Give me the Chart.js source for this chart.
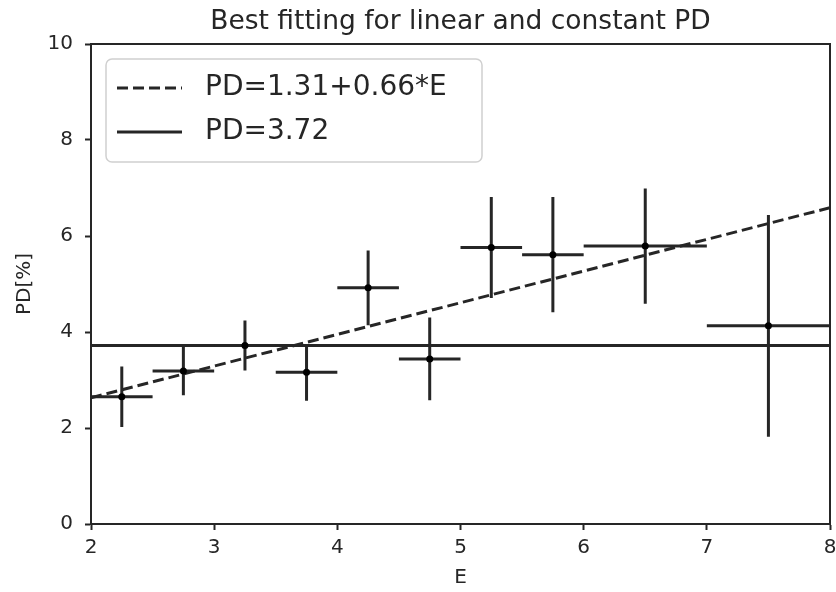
<!DOCTYPE html>
<html>
<head>
<meta charset="utf-8">
<script src="https://cdn.jsdelivr.net/npm/chart.js@4.4.1/dist/chart.umd.min.js"></script>
<style>
  html, body { margin: 0; padding: 0; background: #fff; }
  #wrap { width: 836px; height: 592px; }
</style>
</head>
<body>
<div id="wrap"><canvas id="chart" width="836" height="592"></canvas></div>
<script>
// measured bins (E) and PD[%] with errors
const eVals = [2.25, 2.75, 3.25, 3.75, 4.25, 4.75, 5.25, 5.75, 6.5, 7.5];
const eErr = [0.25, 0.25, 0.25, 0.25, 0.25, 0.25, 0.25, 0.25, 0.5, 0.5];
const pdVals = [2.65, 3.19, 3.72, 3.16, 4.92, 3.44, 5.76, 5.61, 5.79, 4.13];
const pdErr = [0.63, 0.51, 0.52, 0.59, 0.78, 0.86, 1.05, 1.2, 1.2, 2.31];

// fitted lines
const fitX = [2, 8];
const linearY = [2.63, 6.59];
const constY = [3.72, 3.72];
const legendLabels = ['PD=1.31+0.66*E', 'PD=3.72'];
const titleText = 'Best fitting for linear and constant PD';

const xTicks = [2, 3, 4, 5, 6, 7, 8];
const yTicks = [0, 2, 4, 6, 8, 10];

const ink = '#262626';
const font = 'DejaVu Sans';

const errorBars = {
    id: 'errorBars',
    afterDatasetsDraw(chart) {
        const {ctx, scales: {x, y}} = chart;
        ctx.save();
        ctx.strokeStyle = ink;
        ctx.lineWidth = 3;
        for (let i = 0; i < eVals.length; i++) {
            const px = x.getPixelForValue(eVals[i]);
            const py = y.getPixelForValue(pdVals[i]);
            ctx.beginPath();
            ctx.moveTo(x.getPixelForValue(eVals[i] - eErr[i]), py);
            ctx.lineTo(x.getPixelForValue(eVals[i] + eErr[i]), py);
            ctx.moveTo(px, y.getPixelForValue(pdVals[i] - pdErr[i]));
            ctx.lineTo(px, y.getPixelForValue(pdVals[i] + pdErr[i]));
            ctx.stroke();
            ctx.fillStyle = '#000';
            ctx.beginPath();
            ctx.arc(px, py, 3.5, 0, Math.PI * 2);
            ctx.fill();
        }
        ctx.restore();
    }
};

const frameAndLegend = {
    id: 'frameAndLegend',
    afterDraw(chart) {
        const {ctx, chartArea: a} = chart;
        ctx.save();
        // top / right spines
        ctx.strokeStyle = ink;
        ctx.lineWidth = 2;
        ctx.beginPath();
        ctx.moveTo(a.left, a.top);
        ctx.lineTo(a.right, a.top);
        ctx.lineTo(a.right, a.bottom);
        ctx.stroke();

        // title, centred over the axes like matplotlib
        ctx.fillStyle = ink;
        ctx.font = '26.5px "' + font + '"';
        ctx.textAlign = 'center';
        ctx.textBaseline = 'middle';
        ctx.fillText(titleText, (a.left + a.right) / 2, 22);

        // legend box
        const bx = a.left + 15, by = a.top + 15, bw = 376, bh = 103;
        ctx.fillStyle = 'rgba(255,255,255,0.8)';
        ctx.strokeStyle = '#d0d0d0';
        ctx.lineWidth = 1.5;
        ctx.beginPath();
        ctx.roundRect(bx, by, bw, bh, 6);
        ctx.fill();
        ctx.stroke();

        const rows = [by + 29, by + 73];
        ctx.strokeStyle = ink;
        ctx.lineWidth = 3;
        ctx.setLineDash([11, 5]);
        ctx.beginPath();
        ctx.moveTo(bx + 11, rows[0]);
        ctx.lineTo(bx + 76, rows[0]);
        ctx.stroke();
        ctx.setLineDash([]);
        ctx.beginPath();
        ctx.moveTo(bx + 11, rows[1]);
        ctx.lineTo(bx + 76, rows[1]);
        ctx.stroke();

        ctx.fillStyle = ink;
        ctx.font = '28px "' + font + '"';
        ctx.textAlign = 'left';
        ctx.fillText(legendLabels[0], bx + 99, rows[0]);
        ctx.fillText(legendLabels[1], bx + 99, rows[1]);
        ctx.restore();
    }
};

new Chart(document.getElementById('chart'), {
    type: 'scatter',
    data: {
        datasets: [
            {
                type: 'line',
                data: fitX.map((v, i) => ({x: v, y: linearY[i]})),
                borderColor: ink,
                borderWidth: 3,
                borderDash: [11, 5],
                pointRadius: 0,
                fill: false
            },
            {
                type: 'line',
                data: fitX.map((v, i) => ({x: v, y: constY[i]})),
                borderColor: ink,
                borderWidth: 3,
                pointRadius: 0,
                fill: false
            }
        ]
    },
    options: {
        responsive: false,
        animation: false,
        layout: {padding: {left: 0, right: 6, top: 44, bottom: 0}},
        plugins: {
            legend: {display: false},
            tooltip: {enabled: false},
            title: {display: false}
        },
        scales: {
            x: {
                type: 'linear',
                min: 2,
                max: 8,
                afterBuildTicks: axis => { axis.ticks = xTicks.map(v => ({value: v})); },
                afterFit: axis => {
                    axis.height = 68;
                    axis.paddingLeft = 0;
                    axis.paddingRight = 0;
                },
                grid: {drawOnChartArea: false, drawTicks: true, tickLength: 6, tickWidth: 2, color: ink},
                border: {display: true, color: ink, width: 2},
                ticks: {color: ink, padding: 6, font: {family: font, size: 20}},
                title: {display: true, text: 'E', color: ink, font: {family: font, size: 20}, padding: {top: 0, bottom: 2}}
            },
            y: {
                type: 'linear',
                min: 0,
                max: 10,
                afterBuildTicks: axis => { axis.ticks = yTicks.map(v => ({value: v})); },
                afterFit: axis => { axis.width = 91; },
                grid: {drawOnChartArea: false, drawTicks: true, tickLength: 6, tickWidth: 2, color: ink},
                border: {display: true, color: ink, width: 2},
                ticks: {color: ink, padding: 12, font: {family: font, size: 20}},
                title: {display: true, text: 'PD[%]', color: ink, font: {family: font, size: 20}, padding: {top: 13, bottom: 0}}
            }
        }
    },
    plugins: [errorBars, frameAndLegend]
});
</script>
</body>
</html>
